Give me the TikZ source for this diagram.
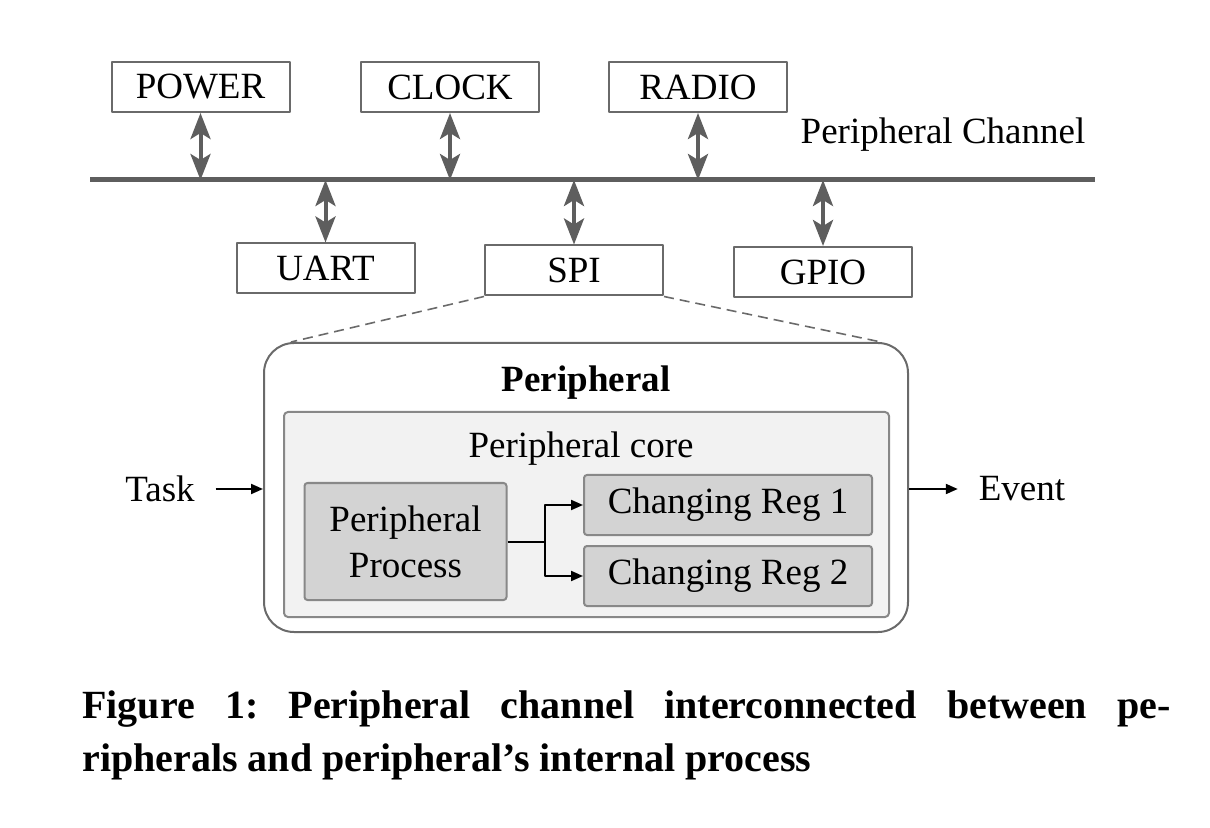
\documentclass[tikz,border=0pt]{standalone}
\usepackage{fontspec}
\setmainfont{Liberation Serif}
\usetikzlibrary{arrows.meta}
\definecolor{boxgray}{HTML}{6A6A6A}
\definecolor{linkgray}{HTML}{5E5E5E}
\definecolor{corefill}{HTML}{F2F2F2}
\definecolor{procfill}{HTML}{D3D3D3}
\begin{document}
\begin{tikzpicture}[x=.5pt,y=-.5pt, font=\fontsize{18.5}{22}\selectfont, line join=round,
    box/.style={draw=boxgray, line width=1pt, minimum width=89pt, minimum height=25pt, inner sep=0pt},
    link/.style={draw=linkgray, line width=2pt, {Stealth[length=13pt,width=10pt,inset=3pt]}-{Stealth[length=13pt,width=10pt,inset=3pt]}},
    gbox/.style={draw=boxgray!80, line width=1pt, fill=procfill, rounded corners=1.5pt, inner sep=0pt},
    >={Triangle[length=6pt,width=5pt]}]
    \useasboundingbox (0,0) rectangle (1210,828);
    % peripherals on the channel
    \node[box] (power) at (200.5,87) {POWER};
    \node[box] (clock) at (450,87) {CLOCK};
    \node[box] (radio) at (698,87) {RADIO};
    \node[box] (uart) at (325.5,268.5) {UART};
    \node[box] (spi) at (574,270.5) {SPI};
    \node[box] (gpio) at (823,272) {GPIO};
    \coordinate (busL) at (90,180); \coordinate (busR) at (1095,180);
    \draw[linkgray, line width=2.5pt] (busL) -- (busR);
    \node (chan) at (943,135) {Peripheral Channel};
    \foreach \p in {power,clock,radio}
    \draw[link] (\p.south) -- (\p.south |- busL);
    \foreach \p in {uart,spi,gpio}
    \draw[link] (\p.north) -- (\p.north |- busL);
    % zoom into SPI
    \node[draw=boxgray, line width=1pt, rounded corners=15pt, minimum width=322pt, minimum height=144.5pt] (periph) at (586,487.5) {};
    \draw[boxgray, line width=.8pt, dash pattern=on 5pt off 3pt] (spi.south west) -- ([xshift=14pt]periph.north west);
    \draw[boxgray, line width=.8pt, dash pattern=on 5pt off 3pt] (spi.south east) -- ([xshift=-14pt]periph.north east);
    \node[font=\fontsize{18.5}{22}\selectfont\bfseries] (ptitle) at (586,383) {Peripheral};
    \node[draw=boxgray!80, line width=1pt, fill=corefill, rounded corners=2pt, minimum width=302.5pt, minimum height=102.5pt] (core) at (586.5,514.5) {};
    \node (ctitle) at (581,449) {Peripheral core};
    \node[gbox, minimum width=101pt, minimum height=58.5pt, align=center] (proc) at (405.5,541.5) {Peripheral\\[1pt]Process};
    \node[gbox, minimum width=144pt, minimum height=30pt] (reg1) at (728,505) {Changing Reg 1};
    \node[gbox, minimum width=144pt, minimum height=30pt] (reg2) at (728,576) {Changing Reg 2};
    \coordinate (fork) at (545,541.5);
    \draw[line width=1pt] (proc.east) -- (fork);
    \draw[->, line width=1pt] (fork) |- (reg1.west);
    \draw[->, line width=1pt] (fork) |- (reg2.west);
    % inputs and outputs
    \node (task) at (160,489) {Task};
    \node (event) at (1022,489) {Event};
    \draw[->, line width=1pt, shorten <=7pt] (task.east) -- (task.east -| periph.west);
    \draw[->, line width=1pt, shorten >=7pt] (event.west -| periph.east) -- (event.west);
    % caption
    \node[anchor=north west, inner sep=0pt, text width=544pt, align=justify,
      font=\fontsize{20}{26.5}\selectfont\bfseries\frenchspacing] (caption) at (82,690)
      {Figure 1: Peripheral channel interconnected between pe-\linebreak ripherals and peripheral's internal process};
\end{tikzpicture}
\end{document}
